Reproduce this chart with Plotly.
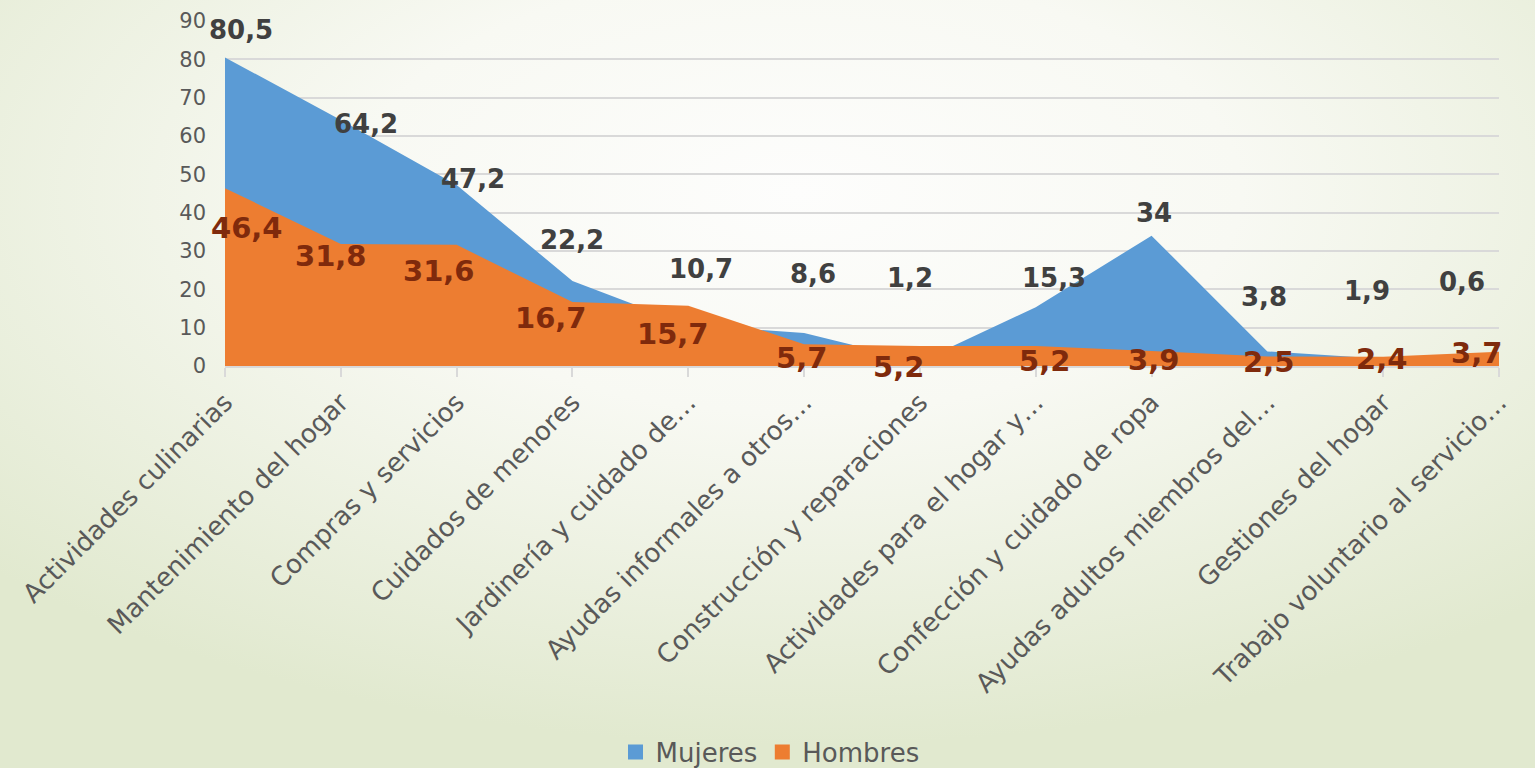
import base64
import plotly.graph_objects as go

# Categorías de trabajo no remunerado
categorias = [
    "Actividades culinarias",
    "Mantenimiento del hogar",
    "Compras y servicios",
    "Cuidados de menores",
    "Jardinería y cuidado de…",
    "Ayudas informales a otros…",
    "Construcción y reparaciones",
    "Actividades para el hogar y…",
    "Confección y cuidado de ropa",
    "Ayudas adultos miembros del…",
    "Gestiones del hogar",
    "Trabajo voluntario al servicio…",
]

# Porcentajes por sexo
mujeres = [80.5, 64.2, 47.2, 22.2, 10.7, 8.6, 1.2, 15.3, 34, 3.8, 1.9, 0.6]
hombres = [46.4, 31.8, 31.6, 16.7, 15.7, 5.7, 5.2, 5.2, 3.9, 2.5, 2.4, 3.7]

y_ticks = [0, 10, 20, 30, 40, 50, 60, 70, 80, 90]

# Desplazamiento de las etiquetas de datos (px: derecha, abajo)
off_m = [(16, -27), (25, 4), (16, -6), (0, -41), (13, -56), (9, -59),
         (-10, -83), (18, -29), (2, -23), (-3, -54), (-16, -68), (-37, -82)]
off_h = [(22, 40), (-10, 12), (-18, 26), (-21, 16), (-15, 28), (-3, 14),
         (-21, 21), (9, 15), (2, 9), (1, 6), (-2, 2), (-23, 1)]

AZUL = "#5B9BD5"
NARANJA = "#ED7D31"
GRIS = "#595959"

W, H = 1535, 768
L, R, T, B = 225, 36, 21, 402
pw, ph = W - L - R, H - T - B

x = list(range(len(categorias)))

fig = go.Figure()
fig.add_trace(go.Scatter(
    x=x, y=mujeres, mode="lines", fill="tozeroy",
    line=dict(width=0, color=AZUL), fillcolor=AZUL,
    showlegend=False, hoverinfo="skip",
))
fig.add_trace(go.Scatter(
    x=x, y=hombres, mode="lines", fill="tozeroy",
    line=dict(width=0, color=NARANJA), fillcolor=NARANJA,
    showlegend=False, hoverinfo="skip",
))
# Entradas de leyenda con marcador cuadrado
for nombre, color in (("Mujeres", AZUL), ("Hombres", NARANJA)):
    fig.add_trace(go.Scatter(
        x=[None], y=[None], mode="markers", name=nombre,
        marker=dict(symbol="square", size=15, color=color),
    ))

def fmt(v):
    s = f"{v:g}"
    return s.replace(".", ",")

anns = []
for i, v in enumerate(mujeres):
    dx, dy = off_m[i]
    anns.append(dict(
        x=i, y=v, xref="x", yref="y", text=fmt(v), showarrow=False,
        xshift=dx, yshift=-dy,
        font=dict(family="DejaVu Sans", size=26, color="#404040", weight="bold"),
    ))
for i, v in enumerate(hombres):
    dx, dy = off_h[i]
    anns.append(dict(
        x=i, y=v, xref="x", yref="y", text=fmt(v), showarrow=False,
        xshift=dx, yshift=-dy,
        font=dict(family="DejaVu Sans", size=29, color="#7F2A0C", weight="bold"),
    ))

# Fondo con degradado radial suave
svg = (
    f"<svg xmlns='http://www.w3.org/2000/svg' width='{W}' height='{H}' "
    f"viewBox='0 0 {W} {H}' preserveAspectRatio='none'>"
    "<defs><radialGradient id='g' cx='0.52' cy='0.25' r='0.72'>"
    "<stop offset='0' stop-color='#FDFDFC'/>"
    "<stop offset='0.4' stop-color='#F8F9F3'/>"
    "<stop offset='1' stop-color='#E1E9CF'/>"
    "</radialGradient></defs>"
    f"<rect width='{W}' height='{H}' fill='url(#g)'/></svg>"
)
bg = "data:image/svg+xml;base64," + base64.b64encode(svg.encode()).decode()

fig.update_layout(
    template="none",
    width=W, height=H,
    margin=dict(l=L, r=R, t=T, b=B, autoexpand=False),
    paper_bgcolor="#EEF2E4",
    plot_bgcolor="rgba(0,0,0,0)",
    font=dict(family="DejaVu Sans", color=GRIS),
    images=[dict(
        source=bg, xref="paper", yref="paper",
        x=-L / pw, y=1 + T / ph, sizex=W / pw, sizey=H / ph,
        xanchor="left", yanchor="top", sizing="stretch", layer="below",
    )],
    xaxis=dict(
        range=[0, len(categorias) - 1],
        tickmode="array", tickvals=x, ticktext=categorias,
        tickangle=-45, tickfont=dict(size=26, color=GRIS, family="DejaVu Sans"),
        ticks="outside", ticklen=9, tickcolor="#D9D9D9", tickwidth=1.5,
        showgrid=False, zeroline=False,
        showline=True, linecolor="#D9D9D9", linewidth=1.5,
    ),
    yaxis=dict(
        range=[0, 90], tickvals=y_ticks,
        tickfont=dict(size=21, color=GRIS, family="DejaVu Sans"),
        ticks="", ticklabelstandoff=18,
        showgrid=True, gridcolor="#D9D9D9", gridwidth=1.5,
        zeroline=False, showline=False,
    ),
    legend=dict(
        orientation="h", x=(770 - L) / pw, xanchor="center",
        y=(T + ph - 752) / ph, yanchor="middle",
        font=dict(size=26, color=GRIS, family="DejaVu Sans"),
        bgcolor="rgba(0,0,0,0)", itemwidth=30,
    ),
    annotations=anns,
)

fig.write_html("out.html")
